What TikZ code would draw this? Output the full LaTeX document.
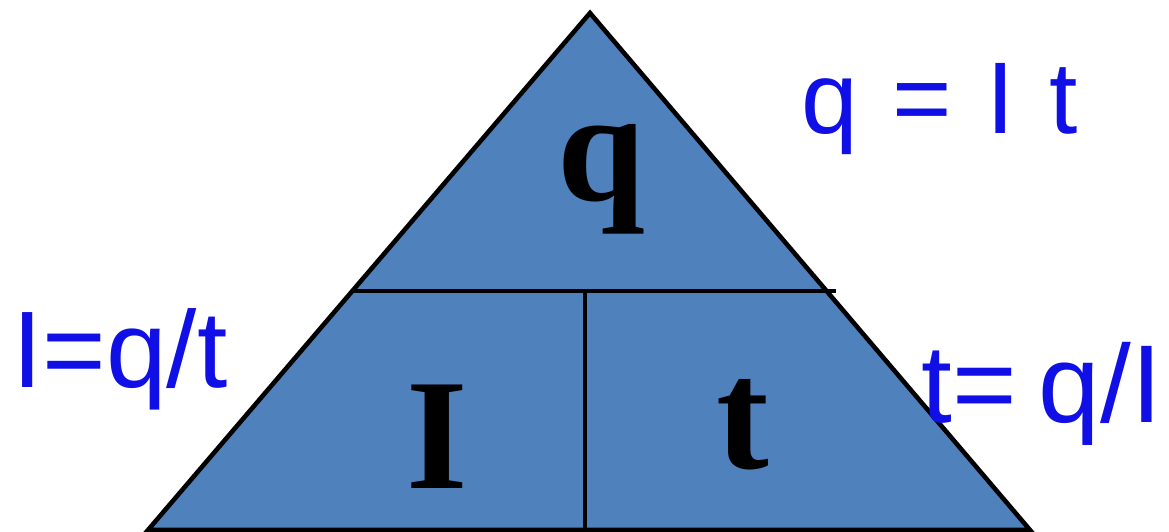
\documentclass[tikz,border=0pt]{standalone}
\usepackage{fontspec}
\usepackage{xcolor}
\usetikzlibrary{positioning,calc}
\newfontfamily\formulafont{Liberation Sans}
\newfontfamily\letterfont{Liberation Serif}
\definecolor{triblue}{RGB}{79,129,189}
\definecolor{formblue}{RGB}{15,15,230}
\tikzset{
  tri/.style={draw=black, line width=2.6pt, fill=triblue, line join=miter},
  divline/.style={draw=black, line width=2.6pt},
  qty/.style={inner sep=0pt, anchor=base, font=\letterfont\bfseries\fontsize{90}{90}\selectfont},
  formula/.style={inner sep=0pt, anchor=base west, text=formblue, font=\formulafont\fontsize{58}{58}\selectfont}
}
\begin{document}
\begin{tikzpicture}[x=0.02cm, y=-0.02cm]
\useasboundingbox (0,0) rectangle (1169,531);
% triangle corners
\coordinate (apex) at (590,13);
\coordinate (bl) at (148,530);
\coordinate (br) at (1030,530);
\coordinate (hl) at (352,291);
\coordinate (hr) at (836,291);
\coordinate (vt) at (585,291);
\coordinate (vb) at (585,531);

\filldraw[tri] (apex) -- (br) -- (bl) -- cycle;
\draw[divline] (hl) -- (hr);
\draw[divline] (vt) -- (vb);

\node[qty] (charge) at (601,200) {q};
\node[qty] (current) at (437,488) {I};
\node[qty] (time) at (743,468) {t};

\node[formula] (fq) at (801,133) {q\hspace{0.34em}=\hspace{0.34em}I\hspace{0.34em}t};
\node[formula, font=\formulafont\fontsize{62}{62}\selectfont] (fi) at (12,387) {I=q/t};
\node[formula, font=\formulafont\fontsize{63}{63}\selectfont] (ft) at (921,422) {t=\hspace{0.2em}q/I};
\end{tikzpicture}
\end{document}
